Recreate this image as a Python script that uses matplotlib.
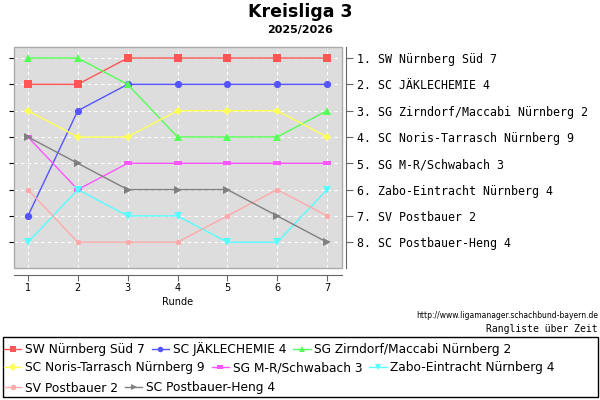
import matplotlib
matplotlib.use("Agg")
import matplotlib.pyplot as plt
from matplotlib.patches import Rectangle

# Daten: Platzierung je Runde
runden = [1, 2, 3, 4, 5, 6, 7]
teams = ["SW Nürnberg Süd 7", "SC JÄKLECHEMIE 4", "SG Zirndorf/Maccabi Nürnberg 2",
         "SC Noris-Tarrasch Nürnberg 9", "SG M-R/Schwabach 3", "Zabo-Eintracht Nürnberg 4",
         "SV Postbauer 2", "SC Postbauer-Heng 4"]
sw_nuernberg = [2, 2, 1, 1, 1, 1, 1]
jaeklechemie = [7, 3, 2, 2, 2, 2, 2]
zirndorf = [1, 1, 2, 4, 4, 4, 3]
noris = [3, 4, 4, 3, 3, 3, 4]
schwabach = [4, 6, 5, 5, 5, 5, 5]
zabo = [8, 6, 7, 7, 8, 8, 6]
postbauer = [6, 8, 8, 8, 7, 6, 7]
postbauer_heng = [4, 5, 6, 6, 6, 7, 8]
platzierungen = [sw_nuernberg, jaeklechemie, zirndorf, noris, schwabach, zabo, postbauer, postbauer_heng]

farben = ["#ff5555", "#5555ff", "#55ff55", "#ffff55", "#ff55ff", "#55ffff", "#ffaaaa", "#808080"]
rechteck = [(-1, -0.55), (1, -0.55), (1, 0.55), (-1, 0.55), (-1, -0.55)]
marker = ["s", "o", "^", "D", rechteck, "v", "o", ">"]
groessen = [5.5, 5.2, 6.2, 4.3, 5.8, 6.2, 4.0, 6.2]

fig = plt.figure(figsize=(6, 4), dpi=100)
ax = fig.add_axes([14 / 600, 132 / 400, 328 / 600, 221 / 400])
ax.set_facecolor("#dddddd")

linien = []
for name, werte, c, m, ms in zip(teams, platzierungen, farben, marker, groessen):
    l, = ax.plot(runden, werte, color=c, marker=m, markersize=ms, linewidth=1.0,
                 markeredgewidth=0, label=name, clip_on=False, zorder=3)
    linien.append(l)

ax.set_xlim(0.72, 7.3)
ax.set_ylim(8.98, 0.58)
ax.set_xticks(runden)
ax.set_yticks(range(1, 9))
ax.grid(True, color="white", linestyle=(0, (3, 3)), linewidth=0.8)
ax.set_axisbelow(True)
ax.tick_params(axis="y", left=False, labelleft=False)
ax.tick_params(axis="x", direction="out", length=4, color="#666666", labelsize=7, pad=2)
for s in ["left", "top", "right"]:
    ax.spines[s].set_visible(False)
ax.spines["bottom"].set_position(("outward", 5))
ax.spines["bottom"].set_color("#666666")
ax.set_xlabel("Runde", fontsize=7, labelpad=3)
ax.add_patch(Rectangle((0, 0), 1, 1, transform=ax.transAxes, fill=False,
                       edgecolor="#aaaaaa", linewidth=1, clip_on=False, zorder=4))

# rechte Achse mit Endstand
ax2 = ax.twinx()
ax2.set_ylim(ax.get_ylim())
endstand = sorted(zip([w[-1] for w in platzierungen], teams))
ax2.set_yticks(range(1, 9), [f"{p}. {n}" for p, n in endstand])
for s in ["left", "top", "bottom"]:
    ax2.spines[s].set_visible(False)
ax2.spines["right"].set_position(("outward", 3))
ax2.spines["right"].set_color("#666666")
ax2.tick_params(axis="y", direction="out", length=5, color="#666666", pad=3)
for t in ax2.get_yticklabels():
    t.set_fontfamily("DejaVu Sans Mono")
    t.set_fontsize(8.4)

fig.text(0.5, 0.97, "Kreisliga 3", ha="center", va="center", fontsize=12.5, fontweight="bold")
fig.text(0.5, 0.925, "2025/2026", ha="center", va="center", fontsize=8, fontweight="bold")
fig.text(598 / 600, 1 - 316 / 400, "http://www.ligamanager.schachbund-bayern.de", ha="right",
         va="center", fontsize=5.5)
fig.text(598 / 600, 1 - 329 / 400, "Rangliste über Zeit", ha="right", va="center",
         family="DejaVu Sans Mono", fontsize=7)

# Legende als Fließtext in drei Zeilen
fig.add_artist(Rectangle((3 / 600, 3 / 400), 595 / 600, 60 / 400, transform=fig.transFigure,
                         fill=False, edgecolor="black", linewidth=1))
zeilen = [(linien[0:3], 349), (linien[3:6], 368), (linien[6:8], 388)]
for gruppe, y in zeilen:
    leg = fig.legend(handles=gruppe, loc="center left", bbox_to_anchor=(4 / 600, 1 - y / 400),
                     ncol=len(gruppe), frameon=False, fontsize=8.8, handlelength=1.4,
                     handletextpad=0.3, columnspacing=0.6, borderpad=0, borderaxespad=0)
    for h in leg.legend_handles:
        h.set_markersize(4)

fig.savefig("out.png", dpi=100)
